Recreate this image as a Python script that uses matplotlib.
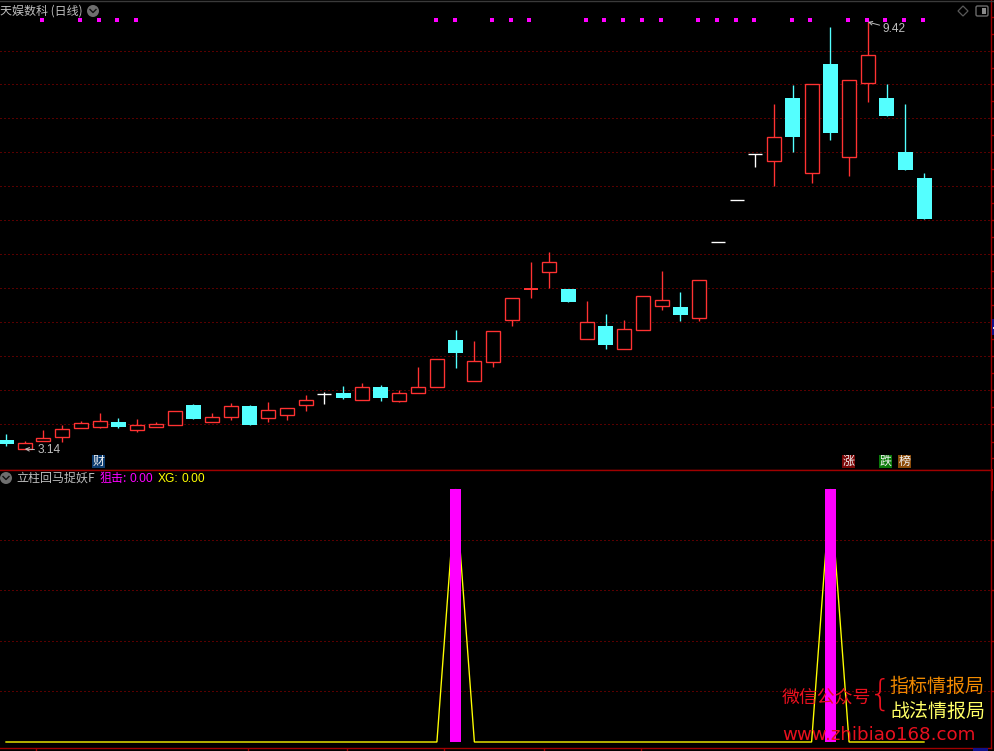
import numpy as np
import matplotlib
matplotlib.use('Agg')
import matplotlib.pyplot as plt
from matplotlib.patches import Circle, Polygon, Rectangle, FancyBboxPatch
from matplotlib.ticker import NullFormatter

plt.rcParams['font.family'] = ['Noto Sans CJK SC', 'DejaVu Sans']

# ---- data ----
opens = [3.214,3.142,3.208,3.241,3.317,3.325,3.366,3.300,3.325,3.337,
         3.516,3.368,3.407,3.507,3.403,3.424,3.514,3.617,3.627,3.565,
         3.683,3.555,3.629,3.686,4.156,3.743,3.931,4.379,4.739,4.955,
         4.739,4.170,4.309,4.064,4.268,4.540,4.525,4.402,5.344,5.954,
         6.702,6.583,7.747,6.383,8.455,6.651,8.046,7.747,6.742,6.306]
closes = [3.181,3.186,3.228,3.303,3.355,3.372,3.323,3.337,3.346,3.460,
          3.395,3.407,3.505,3.343,3.469,3.487,3.559,3.617,3.583,3.680,
          3.583,3.624,3.680,3.955,4.023,3.935,4.251,4.627,4.739,5.076,
          4.583,4.350,4.103,4.272,4.651,4.603,4.433,4.847,5.344,5.954,
          6.702,7.002,7.013,8.025,7.080,8.108,8.647,7.396,6.437,5.674]
highs = [3.264,3.205,3.297,3.340,3.375,3.445,3.401,3.389,3.366,3.460,
         3.525,3.445,3.535,3.519,3.544,3.487,3.608,3.636,3.693,3.721,
         3.702,3.655,3.878,3.955,4.265,4.146,4.251,4.627,5.080,5.213,
         4.739,4.595,4.444,4.376,4.651,4.964,4.703,4.847,5.344,5.954,
         6.702,7.628,8.010,8.025,9.300,8.108,9.420,8.031,7.628,6.387]
lows = [3.164,3.140,3.208,3.200,3.317,3.317,3.314,3.280,3.325,3.337,
        3.395,3.368,3.383,3.343,3.366,3.386,3.465,3.528,3.574,3.565,
        3.555,3.546,3.629,3.686,3.868,3.743,3.878,4.309,4.631,4.751,
        4.583,4.170,4.061,4.064,4.268,4.490,4.365,4.365,5.344,5.954,
        6.492,6.177,6.742,6.230,6.953,6.338,7.674,7.396,6.437,5.674]
red_doji = [28]
signal_days = [2,4,5,6,7,23,24,26,27,28,31,32,33,34,35,37,38,39,40,42,43,45,46,47,48,49]
signal_level = 9.47
grid_prices = [3.346,3.652,3.986,4.350,4.748,5.182,5.656,6.173,6.738,7.354,8.026,8.74]
extra_ticks = [3.07,3.20,9.13,9.54]
sniper = [0.0]*50
sniper[24] = 1.0
sniper[44] = 1.0
xg = list(sniper)
sub_grid = [0.2,0.4,0.6,0.8]
month_ticks = [1.6,12.9,18.2,23.4,28.7,33.9]

RED = '#FF3232'
CYAN = '#54FFFF'
MAG = '#FF00FF'
YEL = '#FFFF00'
AXC = '#A00000'
GRID = '#B00000'
GRAY = '#BEBEBE'
PX = 0.72
LW = PX*1.35
DOTS = (0, (1, 3))

W, H = 994, 751
fig = plt.figure(figsize=(W/100, H/100), dpi=100, facecolor='black')
x_step = 18.735
xl = (-6/x_step, (991-6)/x_step)
top_y, mid_y, bot_y = 0, 469.5, 747.5
ax = fig.add_axes([0, 1-mid_y/H, 991/W, (mid_y-top_y)/H], facecolor='black')
ax2 = fig.add_axes([0, 1-bot_y/H, 991/W, (bot_y-mid_y)/H], facecolor='black')

for a in (ax, ax2):
    a.set_xlim(*xl)
    a.spines['left'].set_visible(False)
    a.spines['top'].set_visible(False)
    for s in ('right', 'bottom'):
        a.spines[s].set_color(AXC)
        a.spines[s].set_linewidth(LW)
    a.yaxis.tick_right()
    a.tick_params(axis='both', which='both', colors=AXC, labelright=False,
                  labelbottom=False, labelleft=False, length=2.2, width=LW)

# ---- main panel ----
ax.set_yscale('log')
ax.set_ylim(2.979, 9.969)
ax.set_xticks([])
ax.set_yticks(grid_prices)
g = np.array(grid_prices)
ax.set_yticks(list(np.sqrt(g[1:]*g[:-1])) + extra_ticks, minor=True)
ax.yaxis.set_major_formatter(NullFormatter())
ax.yaxis.set_minor_formatter(NullFormatter())
ax.tick_params(axis='y', which='both', length=2.2, width=LW, color=AXC)
ax.grid(True, axis='y', which='major', color=GRID, lw=PX, ls=DOTS, zorder=0)
ax.set_axisbelow(True)

for i, (o, c, h, l) in enumerate(zip(opens, closes, highs, lows)):
    if c > o:
        col, fc, w = RED, 'black', 14/x_step
    elif c < o:
        col, fc, w = CYAN, CYAN, 15/x_step
    else:
        col = RED if i in red_doji else 'white'
        fc, w = col, 14/x_step
    ax.vlines(i, l, h, color=col, lw=LW, zorder=2)
    if c == o:
        ax.hlines(o, i-w/2, i+w/2, color=col,
                  lw=PX*2 if i in red_doji else LW, zorder=3)
    else:
        ax.bar(i, abs(c-o), bottom=min(o, c), width=w, facecolor=fc, edgecolor=col,
               lw=LW if c > o else 0, zorder=3)

ax.scatter(np.array(signal_days)-0.06, [signal_level]*len(signal_days), marker='s',
           s=4.7, color=MAG, linewidths=0, zorder=4)

low_i = int(np.argmin(lows))
high_i = int(np.argmax(highs))
for idx, price, dx, dy, txt in ((low_i, lows[low_i], 9, -1, '3.14'), (high_i, highs[high_i], 10.5, -5, '9.42')):
    ax.annotate(txt, xy=(idx, price), xytext=(dx, dy), textcoords='offset points',
                color=GRAY, fontsize=8.6, family='Liberation Sans', va='center', ha='left',
                arrowprops=dict(arrowstyle='->,head_width=0.15,head_length=0.3', color=GRAY, lw=0.7,
                                shrinkA=0, shrinkB=0), zorder=5)

# ---- indicator panel ----
ax2.set_ylim(-(bot_y-742)/253, (742-mid_y)/253)
ax2.set_yticks(sub_grid)
ax2.yaxis.set_major_formatter(NullFormatter())
ax2.set_xticks(month_ticks)
ax2.grid(True, axis='y', color=GRID, lw=PX, ls=DOTS)
ax2.set_axisbelow(True)
xs = np.arange(50)
ax2.plot(xs, xg, color=YEL, lw=LW, zorder=3, solid_joinstyle='bevel')
ax2.bar(xs, sniper, width=11/x_step, color=MAG, linewidth=0, zorder=4)

# ---- overlay: texts and small furniture, in pixels ----
ov = fig.add_axes([0, 0, 1, 1], facecolor='none')
ov.set_xlim(0, W)
ov.set_ylim(H, 0)
ov.axis('off')
ov.plot([0, W], [1, 1], color='#3A3A3A', lw=1.4*PX)
ov.plot([0, 991], [469.5, 469.5], color=AXC, lw=LW)
ov.plot([992, 992], [470, 490], color=AXC, lw=2*PX)

def T(x, y, s, c, size, **kw):
    ov.text(x, y, s, color=c, fontsize=size*0.72, va='center', ha=kw.pop('ha', 'left'), **kw)

def chevron(x, y):
    ov.add_patch(Circle((x, y), 6, fc='#6E6E6E', ec='none'))
    ov.plot([x-3, x, x+3], [y-1.5, y+1.5, y-1.5], color='#111111', lw=1.0)

T(0, 11, '天娱数科 (日线)', GRAY, 12)
chevron(93, 11)
ov.add_patch(Polygon([(963, 6), (968, 11), (963, 16), (958, 11)], closed=True, fc='none', ec='#5A5A5A', lw=0.9))
ov.add_patch(FancyBboxPatch((977, 7), 10, 8, boxstyle='round,pad=1,rounding_size=1.5', fc='none', ec='#6A6A6A', lw=1.0))
ov.add_patch(Rectangle((982, 8), 3.5, 6, fc='#8A8A8A', ec='none'))

for cx, s, bg in ((98.5, '财', '#0B3C70'), (848.5, '涨', '#7A0606'), (885.5, '跌', '#0A7A0A'), (904.5, '榜', '#8A4A08')):
    ov.add_patch(Rectangle((cx-6.5, 455), 13, 13, fc=bg, ec='none'))
    T(cx, 461.2, s, '#F0F0F0', 12, ha='center')

chevron(6, 478)
T(16, 478, '立柱回马捉妖F', GRAY, 12)
T(100, 478, '狙击:', MAG, 12)
T(130, 478.5, '0.00', MAG, 12, family='Liberation Sans')
T(158, 478.5, 'XG:', YEL, 12, family='Liberation Sans')
T(181, 478.5, '0.00', YEL, 12, family='Liberation Sans')

WM = '#E8101E'
T(782, 697.5, '微信公众号', WM, 17.9)
T(889.5, 686, '指标情报局', '#F08A00', 19)
T(890.5, 711, '战法情报局', '#FFFF66', 19)
T(880, 695, '{', WM, 36, ha='center', family='DejaVu Sans', fontweight='light')
T(782, 735.5, 'www.zhibiao168.com', WM, 18.3, family='DejaVu Sans')

ov.add_patch(Rectangle((973, 748), 15, 3, fc='#10108A', ec='none'))
ov.add_patch(Rectangle((992, 319), 2, 16, fc='#10108A', ec='none'))
ov.add_patch(Rectangle((993, 327), 1, 1.5, fc='#DDDDDD', ec='none'))

fig.savefig('out.png', dpi=100, facecolor='black')
